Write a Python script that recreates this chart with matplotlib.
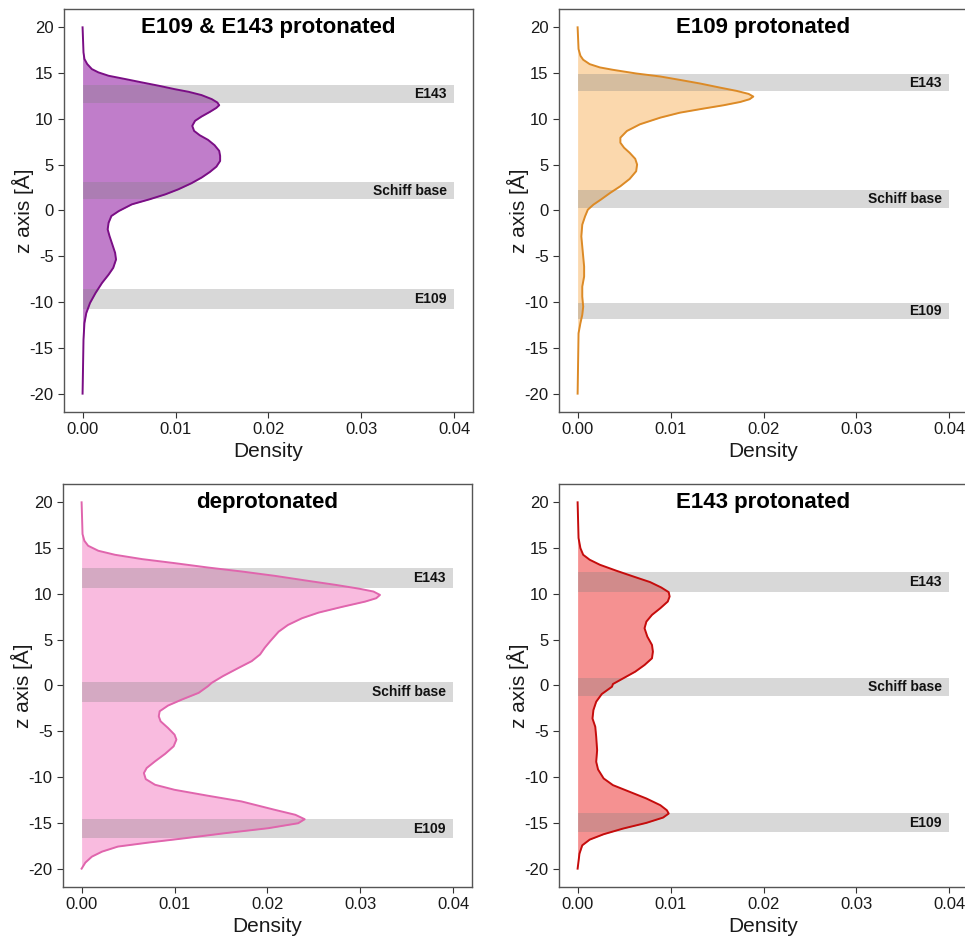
import matplotlib
matplotlib.use("Agg")
import matplotlib.pyplot as plt

plt.rcParams['font.family'] = ['Liberation Sans', 'DejaVu Sans']
plt.rcParams['axes.unicode_minus'] = False

# z positions [A] and density values, one pair of lists per panel
z_both = [20, 17.26, 16.54, 15.99, 15.44, 15.08, 14.71, 14.35, 13.98, 13.62, 13.25, 12.96, 12.60,
          12.16, 11.79, 11.50, 11.21, 10.77, 10.26, 9.79, 9.24, 8.69, 8.22, 7.71, 7.13, 6.51, 5.96,
          5.41, 4.79, 4.21, 3.59, 2.97, 2.31, 1.76, 1.22, 0.67, -0.06, -0.60, -1.34, -2.06, -2.79,
          -3.70, -4.62, -5.35, -6.26, -7.0, -7.9, -9.0, -10.1, -11.2, -12.3, -14.1, -20]
d_both = [0, 0.0001, 0.0002, 0.0005, 0.0010, 0.0017, 0.0028, 0.0046, 0.0064, 0.0082, 0.0099, 0.0114,
          0.0128, 0.0139, 0.0145, 0.0147, 0.0144, 0.0137, 0.0128, 0.0121, 0.0118, 0.0120, 0.0126,
          0.0135, 0.0142, 0.0147, 0.0148, 0.0148, 0.0144, 0.0137, 0.0128, 0.0117, 0.0103, 0.0089,
          0.0072, 0.0053, 0.0039, 0.0031, 0.0028, 0.0027, 0.0029, 0.0032, 0.0035, 0.0036, 0.0033,
          0.0028, 0.0021, 0.0014, 0.0008, 0.0004, 0.0002, 0.0001, 0]

z_e109 = [20, 17.63, 16.9, 16.46, 15.98, 15.62, 15.36, 14.96, 14.63, 14.26, 13.86, 13.42, 13.06,
          12.73, 12.44, 12.15, 11.85, 11.49, 11.12, 10.68, 10.14, 9.41, 8.68, 7.95, 7.40, 6.85, 6.30,
          5.64, 5.02, 4.29, 3.45, 2.65, 1.92, 1.19, 0.64, 0.09, -0.64, -1.55, -2.83, -3.93, -5.02,
          -6.12, -7.21, -8.31, -9.4, -10.5, -11.4, -12.3, -13.4, -20]
d_e109 = [0, 0.0001, 0.0003, 0.0006, 0.0013, 0.0024, 0.0038, 0.0063, 0.0089, 0.0110, 0.0132, 0.0153,
          0.0171, 0.0184, 0.0189, 0.0185, 0.0175, 0.0157, 0.0135, 0.0110, 0.0089, 0.0067, 0.0053,
          0.0046, 0.0046, 0.0050, 0.0056, 0.0062, 0.0064, 0.0063, 0.0056, 0.0046, 0.0035, 0.0025,
          0.0017, 0.0011, 0.0008, 0.0005, 0.0004, 0.0005, 0.0006, 0.0007, 0.0007, 0.0005, 0.0005,
          0.0006, 0.0005, 0.0003, 0.0001, 0]

z_dep = [20, 16.53, 15.80, 15.26, 14.71, 14.27, 13.80, 13.36, 12.88, 12.45, 11.97, 11.42, 10.99,
         10.58, 10.26, 9.89, 9.53, 9.16, 8.58, 7.96, 7.34, 6.61, 5.88, 4.85, 4.12, 3.39, 2.66, 1.93,
         1.02, 0.29, -0.07, -0.80, -1.53, -2.19, -2.81, -3.36, -3.91, -4.64, -5.37, -5.91, -6.64,
         -7.45, -8.28, -9.01, -9.56, -10.22, -10.84, -11.39, -12.04, -12.66, -13.58, -14.12, -14.6,
         -15.04, -15.58, -16.13, -16.68, -17.15, -17.59, -18.14, -18.69, -19.34, -20]
d_dep = [0, 0.0001, 0.0003, 0.0007, 0.0018, 0.0036, 0.0065, 0.0100, 0.0136, 0.0172, 0.0208, 0.0244,
         0.0273, 0.0298, 0.0314, 0.0321, 0.0317, 0.0305, 0.0280, 0.0255, 0.0237, 0.0222, 0.0212,
         0.0203, 0.0197, 0.0192, 0.0183, 0.0169, 0.0152, 0.0140, 0.0136, 0.0126, 0.0108, 0.0093,
         0.0084, 0.0083, 0.0085, 0.0093, 0.0100, 0.0102, 0.0099, 0.0090, 0.0079, 0.0070, 0.0067,
         0.0069, 0.0079, 0.0100, 0.0136, 0.0172, 0.0208, 0.0230, 0.0240, 0.0233, 0.0201, 0.0154,
         0.0111, 0.0072, 0.0039, 0.0022, 0.0011, 0.0004, 0]

z_e143 = [20, 16.1, 15.0, 14.27, 13.73, 13.18, 12.52, 11.9, 11.29, 10.7, 10.19, 9.72, 9.17, 8.44,
          7.71, 6.98, 6.25, 5.34, 4.43, 3.70, 2.97, 2.24, 1.51, 0.78, 0.16, -0.13, -0.93, -1.77,
          -2.68, -3.6, -4.51, -5.6, -7.06, -8.33, -9.17, -10.15, -10.88, -11.61, -12.34, -13.07,
          -13.62, -13.98, -14.42, -15.0, -15.62, -16.24, -16.83, -17.45, -18.36, -20]
d_e143 = [0, 0.0001, 0.0003, 0.0006, 0.0013, 0.0024, 0.0042, 0.0060, 0.0078, 0.0090, 0.0098, 0.0099,
          0.0097, 0.0089, 0.0080, 0.0074, 0.0072, 0.0075, 0.0080, 0.0081, 0.0080, 0.0072, 0.0062,
          0.0049, 0.0038, 0.0037, 0.0026, 0.0020, 0.0017, 0.0016, 0.0019, 0.0020, 0.0021, 0.0020,
          0.0022, 0.0028, 0.0038, 0.0056, 0.0074, 0.0089, 0.0096, 0.0098, 0.0092, 0.0074, 0.0049,
          0.0028, 0.0013, 0.0005, 0.0002, 0]

titles = ["E109 & E143 protonated", "E109 protonated", "deprotonated", "E143 protonated"]
band_names = ["E143", "Schiff base", "E109"]
# (low, high) z range of each marked residue band, per panel
bands_both = [(11.7, 13.7), (1.2, 3.1), (-10.8, -8.6)]
bands_e109 = [(13.0, 14.9), (0.3, 2.2), (-11.9, -10.1)]
bands_dep = [(10.6, 12.8), (-1.75, 0.35), (-16.65, -14.6)]
bands_e143 = [(10.2, 12.4), (-1.1, 0.8), (-16.0, -13.95)]

fills = ["#c07dca", "#fbd8ad", "#f9bbdf", "#f59191"]
lines = ["#7a0e85", "#dc8a26", "#e065ad", "#c50c0c"]

panels = [(z_both, d_both, bands_both), (z_e109, d_e109, bands_e109),
          (z_dep, d_dep, bands_dep), (z_e143, d_e143, bands_e143)]
positions = [[0.0663, 0.5608, 0.4238, 0.4296], [0.5793, 0.5608, 0.4238, 0.4296],
             [0.0653, 0.0544, 0.4238, 0.4296], [0.5793, 0.0544, 0.4238, 0.4296]]

fig = plt.figure(figsize=(9.65, 9.38), dpi=100)

for i, (z, d, bands) in enumerate(panels):
    ax = fig.add_axes(positions[i])
    ax.fill_betweenx(z, 0, d, color=fills[i], lw=0, zorder=1)
    for (lo, hi), name in zip(bands, band_names):
        ax.fill_between([0, 0.04], lo, hi, color="#808080", alpha=0.3, lw=0, zorder=2)
        ax.text(0.0392, (lo + hi) / 2, name, ha="right", va="center",
                fontsize=10, fontweight="bold", color="#111111", zorder=4)
    ax.plot(d, z, color=lines[i], lw=1.4, zorder=3, solid_joinstyle="round")
    ax.text(0.02, 20, titles[i], ha="center", va="center", fontsize=16,
            fontweight="bold", color="black")

    ax.set_xlim(-0.002, 0.042)
    ax.set_ylim(-22, 22)
    ax.set_xticks([0, 0.01, 0.02, 0.03, 0.04])
    ax.set_xticklabels(["0.00", "0.01", "0.02", "0.03", "0.04"])
    ax.set_yticks([-20, -15, -10, -5, 0, 5, 10, 15, 20])
    ax.tick_params(labelsize=12, colors="#333333", labelcolor="#1a1a1a", length=4, width=0.8)
    for sp in ax.spines.values():
        sp.set_color("#555555")
        sp.set_linewidth(1.0)
    ax.set_xlabel("Density", fontsize=15, color="#1a1a1a", labelpad=3)
    ax.set_ylabel("z axis [Å]", fontsize=15, color="#1a1a1a", labelpad=-3)

fig.savefig("out.png", dpi=100)
